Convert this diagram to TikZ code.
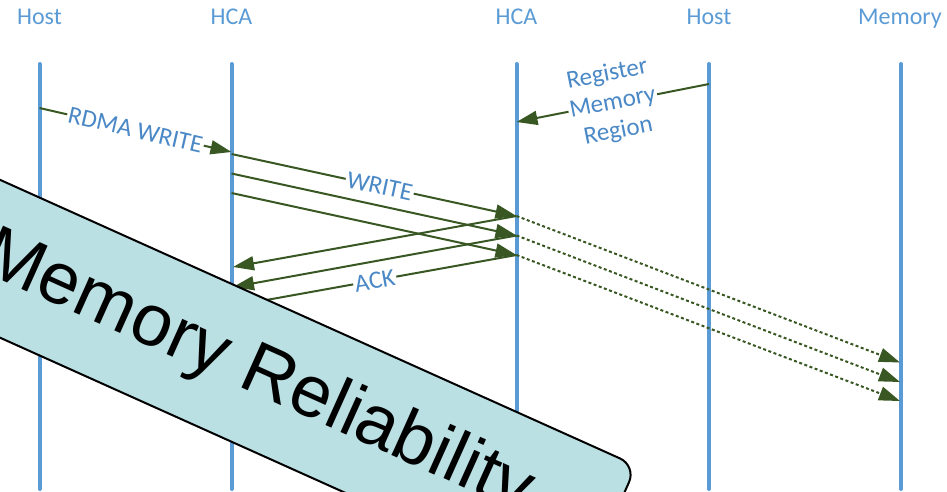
\documentclass[tikz,border=0pt]{standalone}
\usepackage{fontspec}
\setmainfont{Carlito}
\newfontfamily\bannerfont{Liberation Sans}
\usetikzlibrary{arrows.meta}
\definecolor{lifeblue}{HTML}{5B9BD5}
\definecolor{labelblue}{HTML}{4A88C6}
\definecolor{arrowgreen}{HTML}{385723}
\definecolor{bannerfill}{HTML}{BAE0E4}
\begin{document}
\begin{tikzpicture}[x=1pt,y=-1pt,
  lifeline/.style={draw=lifeblue, line width=4pt, line cap=round},
  head/.style={font=\fontsize{24}{28}\selectfont, text=lifeblue, anchor=base, inner sep=0pt},
  msg/.style={draw=arrowgreen, line width=2pt, -{Triangle[length=21pt,width=14pt]}},
  dmsg/.style={msg, dash pattern=on 3pt off 2.5pt},
  lbl/.style={font=\fontsize{25}{29}\selectfont, text=labelblue, fill=white, inner sep=1.5pt, sloped, align=center},
  bannerbox/.style={draw=black, line width=2pt, fill=bannerfill, rounded corners=18pt},
  bannertext/.style={font=\bannerfont\fontsize{73}{80}\selectfont, text=black, inner sep=0pt, rotate=-24.2}
]
\useasboundingbox (0,0) rectangle (947,491);
\clip (0,0) rectangle (947,491);

% headings
\node[head] (hA) at (39.5,24) {Host};
\node[head] (hB) at (231.5,24) {HCA};
\node[head] (hC) at (516.5,24) {HCA};
\node[head] (hD) at (709,24) {Host};
\node[head] (hE) at (900,24) {Memory};

% lifelines
\coordinate (A0) at (39.5,64);  \coordinate (A1) at (39.5,489);
\coordinate (B0) at (231.5,64); \coordinate (B1) at (231.5,489);
\coordinate (C0) at (516.5,64); \coordinate (C1) at (516.5,489);
\coordinate (D0) at (709,64);   \coordinate (D1) at (709,489);
\coordinate (E0) at (901,64);   \coordinate (E1) at (901,489);
\draw[lifeline] (A0) -- (A1);
\draw[lifeline] (B0) -- (B1);
\draw[lifeline] (C0) -- (C1);
\draw[lifeline] (D0) -- (D1);
\draw[lifeline] (E0) -- (E1);

% message points
\coordinate (rw0) at (39.5,108);  \coordinate (rw1) at (231.5,152);
\coordinate (rg0) at (709,84);    \coordinate (rg1) at (516.5,122);
\coordinate (s1) at (231.5,154);  \coordinate (s2) at (231.5,173.5); \coordinate (s3) at (231.5,193);
\coordinate (t1) at (516.5,216);  \coordinate (t2) at (516.5,235.5); \coordinate (t3) at (516.5,255);
\coordinate (k1) at (233,267);    \coordinate (k2) at (233,287);     \coordinate (k3) at (233,306);
\coordinate (m1) at (900,362.5);  \coordinate (m2) at (900,382);     \coordinate (m3) at (900,401);

\draw[msg] (rw0) -- node[lbl] {RDMA WRITE} (rw1);
\draw[msg] (rg0) -- node[lbl] {Register\\Memory\\Region} (rg1);

\draw[msg] (s1) -- node[lbl, pos=0.52] {WRITE} (t1);
\draw[msg] (s2) -- (t2);
\draw[msg] (s3) -- (t3);

\draw[msg] (t1) -- (k1);
\draw[msg] (t2) -- (k2);
\draw[msg] (t3) -- node[lbl] {ACK} (k3);

\draw[dmsg] (t1) -- (m1);
\draw[dmsg] (t2) -- (m2);
\draw[dmsg] (t3) -- (m3);

% banner
\begin{scope}[shift={(232,363)}, rotate=-24.2]
  \draw[bannerbox] (-800,-72) rectangle (411,72);
\end{scope}
\node[bannertext] (banner) at (257,374) {Memory Reliability};
\end{tikzpicture}
\end{document}
